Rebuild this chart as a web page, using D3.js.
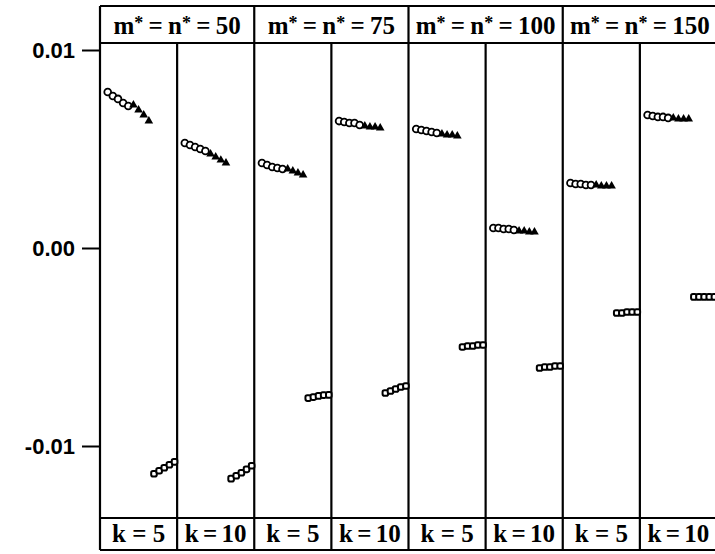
<!DOCTYPE html>
<html>
<head>
<meta charset="utf-8">
<script src="https://cdn.jsdelivr.net/npm/d3@7"></script>
<style>
  body { margin: 0; background: #fff; }
</style>
</head>
<body>
<svg id="chart" width="715" height="554"></svg>
<script>
// panel strips
const groups = ["50", "75", "100", "150"];
const kLabels = ["k = 5", "k = 10"];
const yTicks = [0.01, 0.00, -0.01];

// one row per panel: (50,k5), (50,k10), (75,k5), (75,k10), ...
const circleVals = [
  [0.00788, 0.00768, 0.00753, 0.00732, 0.00717],
  [0.00530, 0.00520, 0.00510, 0.00500, 0.00490],
  [0.00429, 0.00419, 0.00409, 0.00404, 0.00399],
  [0.00641, 0.00636, 0.00631, 0.00631, 0.00621],
  [0.00601, 0.00596, 0.00591, 0.00586, 0.00581],
  [0.00101, 0.00101, 0.00096, 0.00096, 0.00091],
  [0.00328, 0.00323, 0.00323, 0.00318, 0.00318],
  [0.00672, 0.00667, 0.00662, 0.00662, 0.00657]
];
const triangleVals = [
  [0.00722, 0.00697, 0.00672, 0.00641],
  [0.00475, 0.00460, 0.00444, 0.00429],
  [0.00399, 0.00389, 0.00379, 0.00369],
  [0.00616, 0.00611, 0.00611, 0.00606],
  [0.00576, 0.00571, 0.00571, 0.00566],
  [0.00086, 0.00086, 0.00081, 0.00081],
  [0.00318, 0.00313, 0.00313, 0.00313],
  [0.00657, 0.00652, 0.00652, 0.00652]
];
const squareVals = [
  [-0.01140, -0.01125, -0.01110, -0.01095, -0.01080],
  [-0.01165, -0.01150, -0.01135, -0.01118, -0.01100],
  [-0.00758, -0.00753, -0.00747, -0.00743, -0.00742],
  [-0.00732, -0.00722, -0.00712, -0.00702, -0.00697],
  [-0.00500, -0.00495, -0.00495, -0.00490, -0.00490],
  [-0.00606, -0.00601, -0.00601, -0.00596, -0.00596],
  [-0.00328, -0.00328, -0.00323, -0.00323, -0.00323],
  [-0.00247, -0.00247, -0.00247, -0.00247, -0.00247]
];

const svg = d3.select("#chart");
const left = 100, right = 717;
const frameTop = 6, stripH = 37, frameBottom = 550, bStripH = 32;
const plotTop = frameTop + stripH, plotBottom = frameBottom - bStripH;

const nPanels = circleVals.length;
const px = d3.scaleLinear().domain([0, nPanels]).range([left, right]);
const y = d3.scaleLinear().domain([-0.01, 0.01]).range([446, 50]);

// x inside a panel: circles 1..5, triangles 6..9, squares 10..14
const xin = d3.scaleLinear().domain([-0.5, 14.5]).range([0, (right - left) / nPanels]);

const serif = "'Liberation Serif', 'DejaVu Serif', serif";
const sans = "'Liberation Sans', Arial, sans-serif";

// y axis (plain hyphen for the minus sign, like the original)
const yAxis = d3.axisLeft(y).tickValues(yTicks).tickSize(18).tickPadding(10)
  .tickFormat(d => d3.format(".2f")(d).replace("\u2212", "-"));
const ga = svg.append("g").attr("transform", `translate(${left},0)`).call(yAxis);
ga.select(".domain").remove();
ga.selectAll(".tick line").attr("stroke", "#000").attr("stroke-width", 2);
ga.selectAll(".tick text").attr("font-family", sans).attr("font-weight", "bold")
  .attr("font-size", 22).attr("fill", "#000").attr("x", -25).attr("dy", "0.34em");

// frame lines
const frame = svg.append("g").attr("stroke", "#000").attr("stroke-width", 2.2).attr("fill", "none");
[frameTop, plotTop, plotBottom, frameBottom].forEach(yy => {
  frame.append("line").attr("x1", left).attr("x2", right).attr("y1", yy).attr("y2", yy);
});
d3.range(nPanels + 1).forEach(i => {
  const x = px(i);
  frame.append("line").attr("x1", x).attr("x2", x)
    .attr("y1", i % 2 === 0 ? frameTop : plotTop).attr("y2", frameBottom);
});

// top strip labels
groups.forEach((g, i) => {
  const cx = (px(2 * i) + px(2 * i + 2)) / 2;
  const t = svg.append("text").attr("x", cx).attr("y", 34)
    .attr("text-anchor", "middle").attr("font-family", serif)
    .attr("font-weight", "bold").attr("font-size", 25).attr("fill", "#000")
    .attr("word-spacing", -1);
  t.append("tspan").text("m");
  t.append("tspan").text("*").attr("dy", -5).attr("font-size", 18);
  t.append("tspan").text(" = n").attr("dy", 5);
  t.append("tspan").text("*").attr("dy", -5).attr("font-size", 18);
  t.append("tspan").text(" = " + g).attr("dy", 5);
});

// bottom strip labels
d3.range(nPanels).forEach(i => {
  svg.append("text").attr("x", (px(i) + px(i + 1)) / 2).attr("y", 542)
    .attr("text-anchor", "middle").attr("font-family", serif)
    .attr("font-weight", "bold").attr("font-size", 25).attr("fill", "#000")
    .attr("word-spacing", i % 2 === 0 ? 0 : -2)
    .text(kLabels[i % 2]);
});

// points
const tri = d3.symbol().type(d3.symbolTriangle).size(32);
d3.range(nPanels).forEach(i => {
  const g = svg.append("g").attr("transform", `translate(${px(i)},0)`);
  g.selectAll("circle").data(circleVals[i]).enter().append("circle")
    .attr("cx", (d, j) => xin(j + 1)).attr("cy", d => y(d)).attr("r", 3.4)
    .attr("fill", "#fff").attr("stroke", "#000").attr("stroke-width", 1.8);
  g.selectAll(".tri").data(triangleVals[i]).enter().append("path")
    .attr("class", "tri").attr("d", tri)
    .attr("transform", (d, j) => `translate(${xin(j + 6)},${y(d)})`)
    .attr("fill", "#000");
  g.selectAll("rect").data(squareVals[i]).enter().append("rect")
    .attr("x", (d, j) => xin(j + 10) - 2.8).attr("y", d => y(d) - 2.8)
    .attr("width", 5.6).attr("height", 5.6).attr("rx", 1.8)
    .attr("fill", "#fff").attr("stroke", "#000").attr("stroke-width", 2);
});
</script>
</body>
</html>
